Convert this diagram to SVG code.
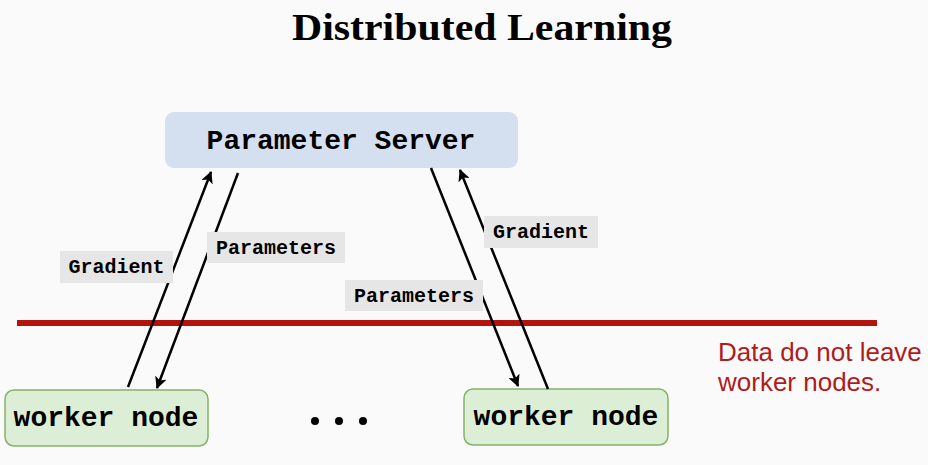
<svg xmlns="http://www.w3.org/2000/svg" width="928" height="465" viewBox="0 0 928 465">
<defs>
<marker id="ah" viewBox="0 0 12 12" refX="11" refY="6" markerWidth="12" markerHeight="12" markerUnits="userSpaceOnUse" orient="auto">
<path d="M0,0 L12,6 L0,12 L3,6 Z" fill="#000"/>
</marker>
</defs>
<style>
.mono{font-family:"Liberation Mono","Courier New",monospace;font-weight:bold;fill:#000}
.conn{stroke:#000;stroke-width:2.5;fill:none;marker-end:url(#ah)}
.lbl{fill:#e6e6e6}
.lbltxt{font-size:20px}
.node-txt{font-size:28px}
</style>
<rect width="928" height="465" fill="#fafafa"/>
<text x="292" y="40" textLength="380" lengthAdjust="spacingAndGlyphs" font-family="Liberation Serif,serif" font-weight="bold" font-size="38" fill="#000">Distributed Learning</text>

<g id="parameter-server">
<rect x="165" y="112" width="353" height="56" rx="9" fill="#d4dfef"/>
<text class="mono node-txt" x="341" y="149" text-anchor="middle">Parameter Server</text>
</g>
<g id="worker-left">
<rect x="5" y="390" width="203" height="56" rx="9" fill="#dcefd6" stroke="#82b366" stroke-width="1.5"/>
<text class="mono node-txt" x="106" y="426" text-anchor="middle">worker node</text>
</g>
<g id="worker-right">
<rect x="464" y="389" width="204" height="56" rx="9" fill="#dcefd6" stroke="#82b366" stroke-width="1.5"/>
<text class="mono node-txt" x="566" y="425" text-anchor="middle">worker node</text>
</g>
<g id="dots" fill="#000">
<circle cx="315" cy="421" r="4"/>
<circle cx="339" cy="421" r="4"/>
<circle cx="363" cy="421" r="4"/>
</g>

<g id="boundary">
<line x1="17" y1="323" x2="877" y2="323" stroke="#b3130f" stroke-width="6"/>
<text font-family="Liberation Sans,Arial,sans-serif" font-size="26" fill="#b01c1c"><tspan x="718" y="361">Data do not leave</tspan><tspan x="718" y="391">worker nodes.</tspan></text>
</g>

<g id="connectors">
<line class="conn" x1="128" y1="387" x2="211" y2="172"/>
<line class="conn" x1="238" y1="173" x2="157" y2="388"/>
<line class="conn" x1="431" y1="168" x2="518" y2="386"/>
<line class="conn" x1="548" y1="389" x2="460" y2="170"/>
<rect class="lbl" x="60" y="251" width="113" height="32"/>
<text class="mono lbltxt" x="116.5" y="273" text-anchor="middle">Gradient</text>
<rect class="lbl" x="207" y="232" width="138" height="31"/>
<text class="mono lbltxt" x="276" y="254" text-anchor="middle">Parameters</text>
<rect class="lbl" x="345" y="280" width="138" height="31"/>
<text class="mono lbltxt" x="414" y="302" text-anchor="middle">Parameters</text>
<rect class="lbl" x="484" y="216" width="114" height="32"/>
<text class="mono lbltxt" x="541" y="238" text-anchor="middle">Gradient</text>
</g>
</svg>
